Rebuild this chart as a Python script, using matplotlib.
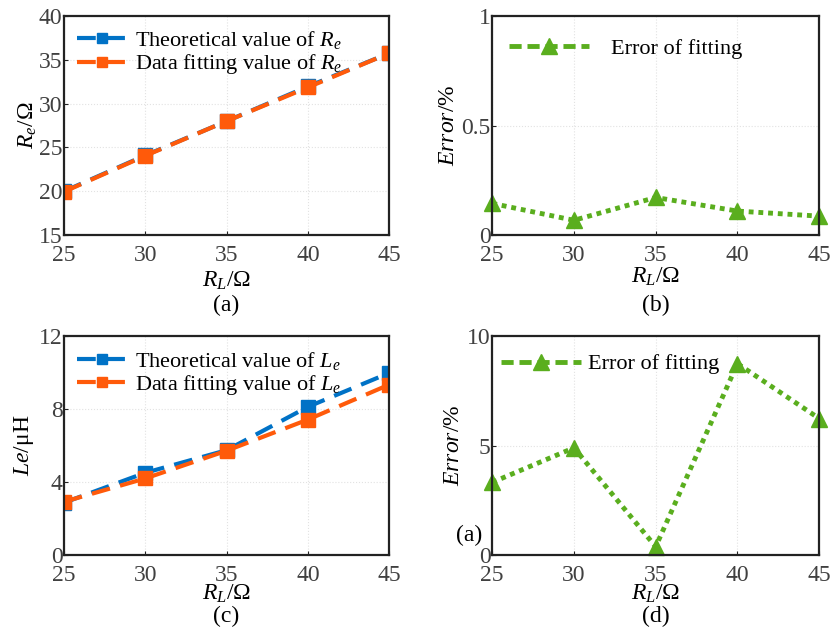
import matplotlib.pyplot as plt
from matplotlib.lines import Line2D

plt.rcParams['font.family'] = ['Liberation Serif', 'DejaVu Serif']
plt.rcParams['mathtext.fontset'] = 'custom'
plt.rcParams['mathtext.rm'] = 'Liberation Serif'
plt.rcParams['mathtext.it'] = 'Liberation Serif:italic'

rl = [25, 30, 35, 40, 45]
re_theory = [20.0, 24.1, 28.0, 31.95, 35.75]
re_fit = [19.95, 24.05, 28.0, 31.85, 35.75]
re_err = [0.145, 0.068, 0.172, 0.11, 0.087]
le_theory = [2.87, 4.51, 5.75, 8.13, 9.99]
le_fit = [2.92, 4.2, 5.72, 7.43, 9.35]
le_err = [3.32, 4.9, 0.38, 8.75, 6.24]

blue = '#0072C6'
orange = '#FF5A0A'
green = '#5AAE1E'
tick_col = '#404040'

fig = plt.figure(figsize=(8.3, 6.34), dpi=100)
ax_a = fig.add_axes([0.077, 0.629, 0.392, 0.346])
ax_b = fig.add_axes([0.593, 0.629, 0.394, 0.346])
ax_c = fig.add_axes([0.077, 0.1246, 0.392, 0.345])
ax_d = fig.add_axes([0.593, 0.1246, 0.394, 0.345])


def style(ax, ylim, yticks, xlabelpad):
    ax.set_xlim(25, 45)
    ax.set_xticks(rl)
    ax.set_ylim(*ylim)
    ax.set_yticks(yticks)
    ax.tick_params(direction='in', length=3, width=0.8, color='#222222',
                   labelsize=17, labelcolor=tick_col)
    ax.tick_params(axis='x', pad=7)
    ax.tick_params(axis='y', pad=1)
    ax.grid(True, color='#e2e2e2', linestyle=':', linewidth=0.8)
    for s in ax.spines.values():
        s.set_linewidth(1.6)
        s.set_color('#222222')
    ax.set_xlabel(r'$R_L$/$\Omega$', fontsize=17, labelpad=xlabelpad)


# (a)
ax_a.plot(rl, re_theory, '--s', color=blue, lw=3, ms=10, dashes=(4.5, 2.5),
          label=r'Theoretical value of $R_e$')
ax_a.plot(rl, re_fit, '--s', color=orange, lw=3, ms=10, dashes=(4.5, 2.5),
          label=r'Data fitting value of $R_e$')
style(ax_a, (15, 40), [15, 20, 25, 30, 35, 40], 3)
ax_a.set_ylabel(r'$R_e$/$\Omega$', fontsize=17, labelpad=0)
ax_a.legend(loc='upper left', frameon=False, fontsize=16, handlelength=2.2,
            borderaxespad=0.2, handletextpad=0.4, labelspacing=0.05,
            markerscale=0.7)

# (b)
ax_b.plot(rl, re_err, '^', color=green, lw=3.5, ms=12, clip_on=False,
          ls=(0, (1, 1)))
style(ax_b, (0, 1), [0, 0.5, 1], 0)
ax_b.set_yticklabels(['0', '0.5', '1'])
ax_b.set_ylabel(r'$Error$/%', fontsize=17, labelpad=2)
h = Line2D([], [], color=green, lw=3.5, ls='--', marker='^', ms=12, dashes=(2.5, 1.2))
ax_b.legend([h], ['Error of fitting'], loc='upper left', frameon=False,
            fontsize=16, handlelength=3.6, handletextpad=1.0,
            bbox_to_anchor=(-0.01, 0.99))

# (c)
ax_c.plot(rl, le_theory, '--s', color=blue, lw=3, ms=10, dashes=(4.5, 2.5),
          label=r'Theoretical value of $L_e$')
ax_c.plot(rl, le_fit, '--s', color=orange, lw=3, ms=10, dashes=(4.5, 2.5),
          label=r'Data fitting value of $L_e$')
style(ax_c, (0, 12), [0, 4, 8, 12], -2)
ax_c.set_ylabel(r'$Le$/μH', fontsize=17, labelpad=2)
ax_c.legend(loc='upper left', frameon=False, fontsize=16, handlelength=2.2,
            borderaxespad=0.2, handletextpad=0.4, labelspacing=0.05,
            markerscale=0.7)

# (d)
ax_d.plot(rl, le_err, '^', color=green, lw=3.5, ms=12, clip_on=False,
          ls=(0, (1, 1)))
style(ax_d, (0, 10), [0, 5, 10], -2)
ax_d.set_ylabel(r'$Error$/%', fontsize=17, labelpad=2)
h = Line2D([], [], color=green, lw=3.5, ls='--', marker='^', ms=12, dashes=(2.5, 1.2))
ax_d.legend([h], ['Error of fitting'], loc='upper left', frameon=False,
            fontsize=16, handlelength=3.6, handletextpad=0.3,
            borderaxespad=0.0, bbox_to_anchor=(0.0, 0.96))
ax_d.text(-0.07, 0.09, '(a)', transform=ax_d.transAxes, fontsize=17,
          ha='center', va='center')

fig.text(0.273, 0.519, '(a)', ha='center', va='center', fontsize=17)
fig.text(0.79, 0.519, '(b)', ha='center', va='center', fontsize=17)
fig.text(0.273, 0.027, '(c)', ha='center', va='center', fontsize=17)
fig.text(0.79, 0.027, '(d)', ha='center', va='center', fontsize=17)

fig.savefig('out.png', dpi=100)
